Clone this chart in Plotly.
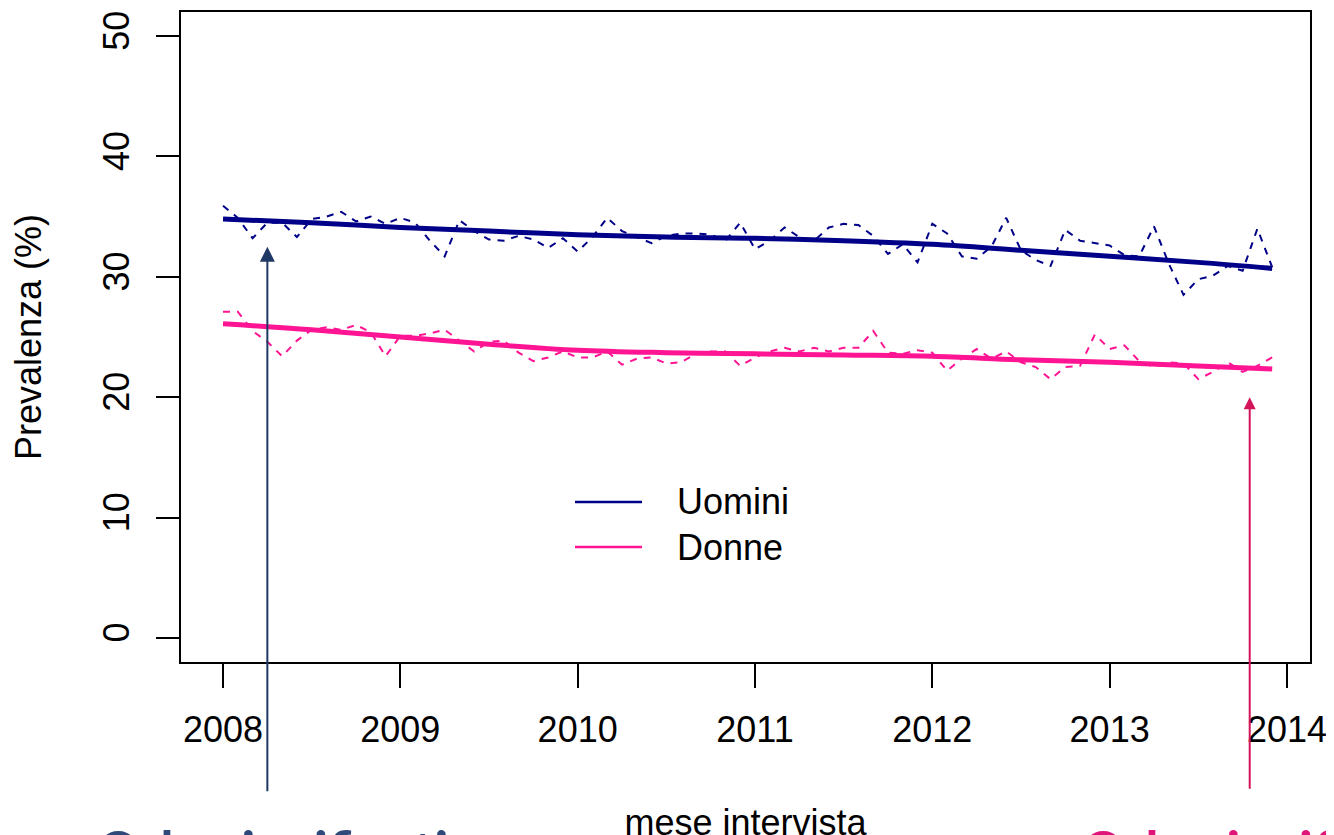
import plotly.graph_objects as go

# ---- data ----
years = [2008, 2009, 2010, 2011, 2012, 2013, 2014]
year_labels = ["2008", "2009", "2010", "2011", "2012", "2013", "2014"]
month_index = list(range(72))  # Jan 2008 .. Dec 2013

uomini_monthly = [
    35.9, 34.9, 33.2, 34.5, 34.5, 33.3, 34.8, 35.0, 35.4, 34.6, 35.0, 34.4,
    34.9, 34.5, 33.0, 31.7, 34.7, 33.8, 33.1, 33.0, 33.4, 33.1, 32.4, 33.2,
    32.1, 33.3, 34.9, 33.8, 33.3, 32.8, 33.4, 33.6, 33.6, 33.5, 33.0, 34.5,
    32.3, 33.0, 34.1, 33.3, 33.0, 34.1, 34.4, 34.3, 33.4, 31.9, 32.7, 31.2,
    34.4, 33.6, 31.7, 31.5, 32.5, 34.9, 32.2, 31.4, 30.9, 33.9, 33.0, 32.8,
    32.6, 31.8, 31.7, 34.2, 31.1, 28.5, 29.8, 30.1, 30.9, 30.5, 34.0, 30.8,
]
donne_monthly = [
    27.1, 27.1, 25.5, 24.6, 23.4, 24.7, 25.6, 25.8, 25.6, 26.0, 25.4, 23.4,
    25.1, 25.1, 25.3, 25.6, 24.7, 23.8, 24.6, 24.7, 23.7, 23.0, 23.3, 23.8,
    23.3, 23.3, 23.8, 22.7, 23.2, 23.3, 22.8, 22.9, 23.6, 23.8, 23.8, 22.6,
    23.3, 23.8, 24.1, 23.8, 24.1, 23.8, 24.1, 24.1, 25.5, 23.7, 23.6, 23.9,
    23.7, 22.2, 23.2, 24.0, 23.2, 23.8, 22.9, 22.5, 21.5, 22.5, 22.6, 25.2,
    24.0, 24.3, 23.0, 22.5, 22.9, 22.8, 21.5, 22.1, 22.9, 22.1, 22.6, 23.3,
]
trend_months = [0, 6, 12, 18, 24, 30, 36, 42, 48, 54, 60, 66, 71]
uomini_trend = [34.8, 34.5, 34.1, 33.8, 33.5, 33.3, 33.2, 33.0, 32.7, 32.2, 31.7, 31.2, 30.7]
donne_trend = [26.1, 25.6, 25.0, 24.4, 23.9, 23.7, 23.6, 23.5, 23.4, 23.1, 22.9, 22.6, 22.35]

series_names = ["Uomini", "Donne"]
annot_text = "Calo significativo"

BLUE = "#000088"
PINK = "#FF1493"
FONT = "Liberation Sans, Arial, sans-serif"

x_month = [2008 + m / 12 for m in month_index]
x_trend = [2008 + m / 12 for m in trend_months]

fig = go.Figure()
fig.add_trace(go.Scatter(x=x_month, y=uomini_monthly, mode="lines",
                         line=dict(color=BLUE, width=2, dash="7px,7px"), showlegend=False))
fig.add_trace(go.Scatter(x=x_month, y=donne_monthly, mode="lines",
                         line=dict(color=PINK, width=2, dash="7px,7px"), showlegend=False))
fig.add_trace(go.Scatter(x=x_trend, y=uomini_trend, mode="lines", name=series_names[0],
                         line=dict(color=BLUE, width=5, shape="spline"), showlegend=False))
fig.add_trace(go.Scatter(x=x_trend, y=donne_trend, mode="lines", name=series_names[1],
                         line=dict(color=PINK, width=5, shape="spline"), showlegend=False))

# manual legend (as in the R plot)
leg_y = [11.3, 7.55]
for name, col, yy in zip(series_names, [BLUE, PINK], leg_y):
    fig.add_shape(type="line", x0=2009.985, x1=2010.363, y0=yy, y1=yy,
                  line=dict(color=col, width=2.5))
    fig.add_annotation(x=2010.55, y=yy, text=name, showarrow=False, xanchor="left",
                       yanchor="middle", font=dict(family=FONT, size=36, color="black"))

# arrows
fig.add_annotation(x=2008.25, y=32.5, text="", showarrow=True, ax=0, ay=546,
                   arrowhead=2, arrowsize=1.5, arrowwidth=2, arrowcolor="#1F3864")
fig.add_annotation(x=2013.79, y=20.0, text="", showarrow=True, ax=0, ay=393,
                   arrowhead=2, arrowsize=1.2, arrowwidth=2, arrowcolor="#D4145A")

# bottom texts (cut off by the image edge, as in the reference)
fig.add_annotation(x=-0.0762, y=-0.236, xref="paper", yref="paper",
                   text="<b>" + annot_text + "</b>", showarrow=False,
                   xanchor="left", yanchor="top",
                   font=dict(family="Lato, Open Sans, sans-serif", size=54, color="#2F4A7A"))
fig.add_annotation(x=0.7963, y=-0.236, xref="paper", yref="paper",
                   text="<b>" + annot_text + "</b>", showarrow=False,
                   xanchor="left", yanchor="top",
                   font=dict(family="Lato, Open Sans, sans-serif", size=54, color="#E0157A"))

fig.update_xaxes(range=[2007.763, 2014.13], tickvals=years, ticktext=year_labels,
                 automargin=False,
                 showgrid=False, zeroline=False, showline=True, mirror=True,
                 linecolor="black", linewidth=2, ticks="outside", ticklen=24,
                 tickwidth=2, tickcolor="black", ticklabelstandoff=11,
                 tickfont=dict(family=FONT, size=36, color="black"),
                 title=dict(text="mese intervista", standoff=62,
                            font=dict(family=FONT, size=36, color="black")))
fig.update_yaxes(range=[-2, 52], tickvals=[0, 10, 20, 30, 40, 50],
                 ticktext=["0", "10", "20", "30", "40", "50"], tickangle=-90,
                 automargin=False,
                 showgrid=False, zeroline=False, showline=True, mirror=True,
                 linecolor="black", linewidth=2, ticks="outside", ticklen=23,
                 tickwidth=2, tickcolor="black", ticklabelstandoff=13,
                 tickfont=dict(family=FONT, size=36, color="black"),
                 title=dict(text="Prevalenza (%)", standoff=43,
                            font=dict(family=FONT, size=36, color="black")))

# the page body adds an 8px offset, so margins are compensated for it
fig.update_layout(width=1334, height=835, margin=dict(l=173, r=32, t=4, b=181),
                  paper_bgcolor="white", plot_bgcolor="white", showlegend=False)

fig.write_html("out.html")
